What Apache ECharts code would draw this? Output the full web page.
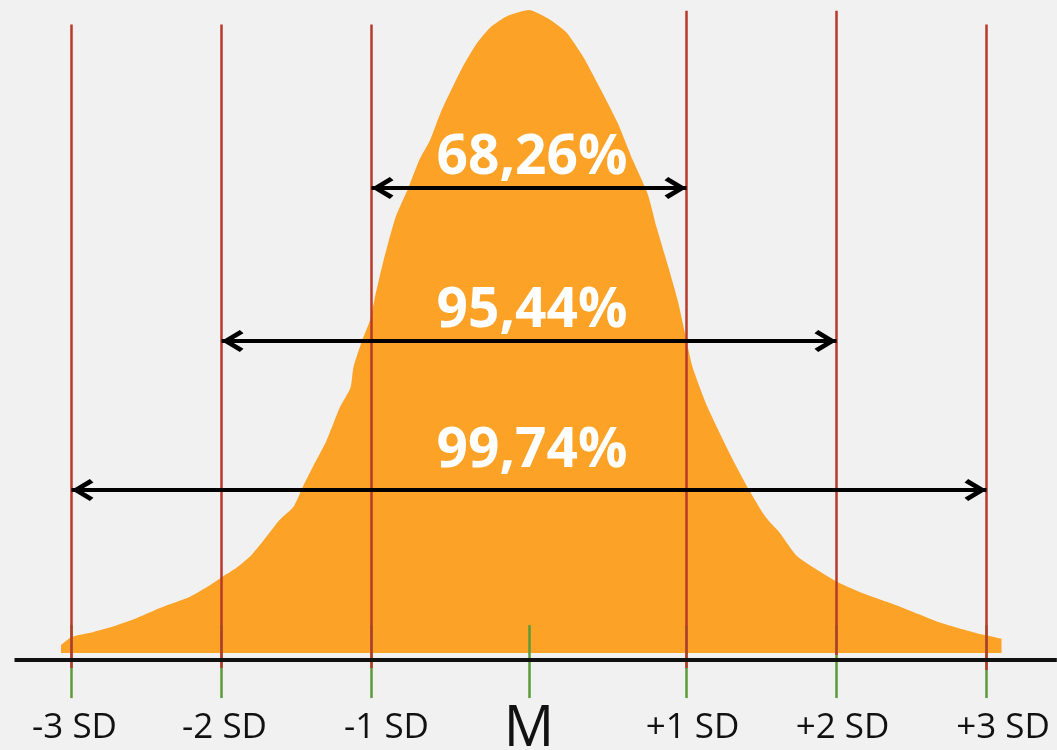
<!DOCTYPE html>
<html>
<head>
<meta charset="utf-8">
<title>Normal distribution</title>
<script src="https://cdn.jsdelivr.net/npm/echarts@6/dist/echarts.min.js"></script>
<style>
  html, body { margin: 0; padding: 0; background: #f1f1f1; }
  #chart { width: 1057px; height: 750px; }
</style>
</head>
<body>
<div id="chart"></div>
<script>
// bell curve outline (x in SD, y as density)
var curveX = [-3.12, -3.05, -2.91, -2.79, -2.61, -2.46, -2.26, -2.13, -2.05, -1.95, -1.86, -1.77, -1.66, -1.57, -1.51, -1.44, -1.35, -1.26, -1.19, -1.17, -1.11, -1.06, -1.03, -0.97, -0.89, -0.81, -0.73, -0.66, -0.59, -0.53, -0.44, -0.35, -0.26, -0.15, 0, 0.14, 0.25, 0.36, 0.47, 0.59, 0.69, 0.79, 0.85, 0.92, 0.99, 1.04, 1.09, 1.19, 1.27, 1.36, 1.47, 1.56, 1.61, 1.67, 1.79, 2.04, 2.23, 2.47, 2.74, 2.96, 3.15]
var curveY = [0.005, 0.010, 0.013, 0.016, 0.022, 0.028, 0.035, 0.042, 0.047, 0.053, 0.060, 0.070, 0.083, 0.091, 0.103, 0.116, 0.132, 0.153, 0.165, 0.178, 0.195, 0.207, 0.220, 0.244, 0.271, 0.288, 0.307, 0.319, 0.336, 0.348, 0.365, 0.379, 0.389, 0.396, 0.400, 0.394, 0.386, 0.371, 0.352, 0.330, 0.307, 0.286, 0.265, 0.243, 0.220, 0.199, 0.178, 0.153, 0.137, 0.120, 0.101, 0.087, 0.081, 0.075, 0.060, 0.045, 0.037, 0.029, 0.019, 0.013, 0.009]

var sdPositions = [-3.05, -2.05, -1.05, 0, 1.05, 2.05, 3.05]
var tickLabels = ['-3 SD', '-2 SD', '-1 SD', 'M', '+1 SD', '+2 SD', '+3 SD']
var tickLabelX = [-3.03, -2.03, -0.95, 0, 1.09, 2.09, 3.16]
// vertical SD lines (none at the mean)
var redLineTop = [0.391, 0.391, 0.391, null, 0.3995, 0.3995, 0.391]
var redLineBottom = [-0.0093, -0.0093, -0.0093, null, -0.0093, -0.0012, -0.0106]

var percentLabels = ['68,26%', '95,44%', '99,74%']
var percentY = [0.3079, 0.2127, 0.1257]
var arrowFrom = [-1.05, -2.05, -3.05]
var arrowTo = [1.05, 2.05, 3.05]
var arrowY = [0.2893, 0.1941, 0.1014]

var tickTop = 0.0174
var tickBottom = -0.028
var baselineY = -0.00435
var labelY = -0.0468

var chart = echarts.init(document.getElementById('chart'))

// open arrow head, tip up
var chevron = 'path://M10.5,0L21,17.5L17.8,21L10.5,8.5L3.2,21L0,17.5Z'

var curveData = curveX.map(function (x, i) { return [x, curveY[i]] })

var redLines = []
sdPositions.forEach(function (x, i) {
  if (redLineTop[i] === null) return
  redLines.push([{ coord: [x, redLineTop[i]] }, { coord: [x, redLineBottom[i]] }])
})
var greenTicks = sdPositions.map(function (x) {
  return [{ coord: [x, tickTop] }, { coord: [x, tickBottom] }]
})
var arrows = arrowY.map(function (y, i) {
  return [{ coord: [arrowFrom[i], y] }, { coord: [arrowTo[i], y] }]
})

function markLines(data, color, width, extra) {
  return Object.assign({
    silent: true,
    symbol: 'none',
    animation: false,
    label: { show: false },
    emphasis: { disabled: true },
    lineStyle: { color: color, width: width, type: 'solid', opacity: 1 },
    data: data
  }, extra || {})
}

function textSeries(data, label) {
  return {
    type: 'scatter',
    silent: true,
    z: 6,
    symbolSize: 1,
    itemStyle: { color: 'rgba(0,0,0,0)', opacity: 1 },
    data: data,
    label: Object.assign({
      show: true,
      position: 'inside',
      formatter: '{b}',
      opacity: 1,
      fontFamily: 'Open Sans'
    }, label)
  }
}

chart.setOption({
  backgroundColor: '#f1f1f1',
  animation: false,
  grid: { left: 13, right: 0, top: 10, bottom: 0 },
  xAxis: { type: 'value', min: -3.44, max: 3.52, show: false },
  yAxis: { type: 'value', min: -0.0603, max: 0.4, show: false },
  series: [
    {
      type: 'line',
      data: curveData,
      symbol: 'none',
      smooth: 0.2,
      silent: true,
      z: 1,
      lineStyle: { width: 0 },
      areaStyle: { color: '#fba227', opacity: 1 }
    },
    {
      type: 'line', data: [], z: 2,
      markLine: markLines(greenTicks, '#5b9b3a', 2.5)
    },
    {
      type: 'line', data: [], z: 3,
      markLine: markLines(redLines, '#b8382a', 2.5)
    },
    {
      type: 'line', data: [], z: 4,
      markLine: markLines([[{ coord: [-3.43, baselineY] }, { coord: [3.519, baselineY] }]], '#111', 4)
    },
    {
      type: 'line', data: [], z: 5,
      markLine: markLines(arrows, '#000', 3.8, {
        symbol: [chevron, chevron],
        symbolSize: 22,
        symbolOffset: [[0, 11], [0, 11]]
      })
    },
    textSeries(
      percentLabels.map(function (t, i) { return { name: t, value: [0.02, percentY[i]] } }),
      { color: '#fff', fontWeight: 'bold', fontSize: 55 }
    ),
    textSeries(
      tickLabels.map(function (t, i) {
        var item = { name: t, value: [tickLabelX[i], labelY] }
        if (t === 'M') item.label = { fontSize: 56, offset: [0, 2] }
        return item
      }),
      { color: '#111', fontSize: 35 }
    )
  ]
})
</script>
</body>
</html>
